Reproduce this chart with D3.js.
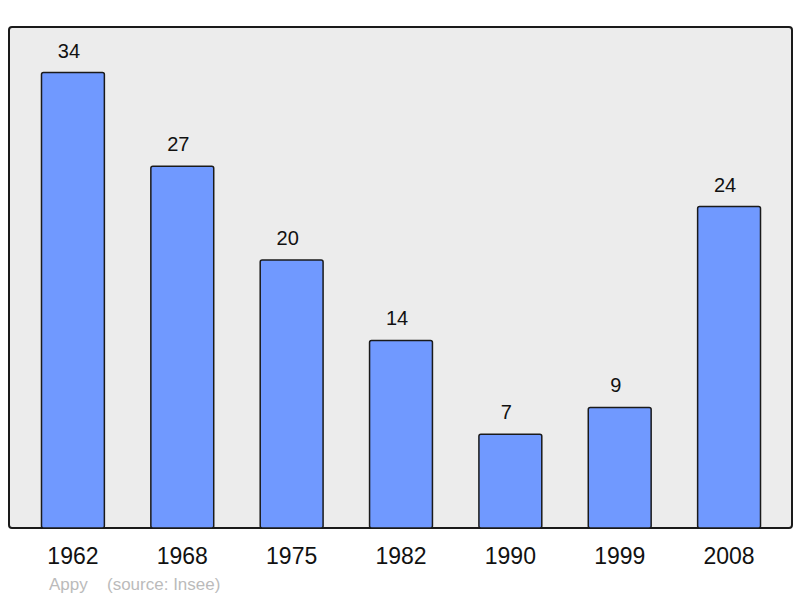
<!DOCTYPE html>
<html>
<head>
<meta charset="utf-8">
<script src="https://cdn.jsdelivr.net/npm/d3@7"></script>
<style>
  body { margin: 0; background: #fff; }
  svg { display: block; font-family: "Liberation Sans", Arial, sans-serif; }
</style>
</head>
<body>
<div id="chart"></div>
<script>
// population by census year
var years = ['1962', '1968', '1975', '1982', '1990', '1999', '2008'];
var population = [34, 27, 20, 14, 7, 9, 24];
var footerLabels = ['Appy', '(source: Insee)'];

var width = 800, height = 598;
var panel = { left: 9, right: 792, top: 27, bottom: 528 };

var svg = d3.select('#chart').append('svg')
    .attr('width', width).attr('height', height);

var x = d3.scaleBand()
    .domain(years)
    .range([panel.left + 1, panel.right])
    .paddingInner(0.425)
    .paddingOuter(0.288);

var y = d3.scaleLinear()
    .domain([0, d3.max(population) * 1.1])
    .range([panel.bottom, panel.top]);

svg.append('rect')
    .attr('x', panel.left).attr('y', panel.top)
    .attr('width', panel.right - panel.left)
    .attr('height', panel.bottom - panel.top)
    .attr('rx', 3)
    .attr('fill', '#ececec')
    .attr('stroke', '#1a1a1a')
    .attr('stroke-width', 2);

var rows = years.map(function(yr, i) { return { year: yr, value: population[i] }; });

svg.selectAll('rect.bar').data(rows)
  .enter().append('rect')
    .attr('class', 'bar')
    .attr('x', function(d) { return x(d.year); })
    .attr('y', function(d) { return y(d.value); })
    .attr('width', x.bandwidth())
    .attr('height', function(d) { return panel.bottom - y(d.value); })
    .attr('rx', 2)
    .attr('fill', '#7099ff')
    .attr('stroke', '#1a1a1a')
    .attr('stroke-width', 1.5);

svg.selectAll('text.val').data(rows)
  .enter().append('text')
    .attr('class', 'val')
    .attr('x', function(d) { return x(d.year) + x.bandwidth() / 2 - 4; })
    .attr('y', function(d) { return y(d.value) - 15; })
    .attr('text-anchor', 'middle')
    .attr('font-size', 20)
    .attr('fill', '#111')
    .text(function(d) { return d.value; });

var xAxis = d3.axisBottom(x).tickSize(0).tickPadding(0);
var gx = svg.append('g')
    .attr('transform', 'translate(0,' + panel.bottom + ')')
    .call(xAxis);
gx.select('.domain').remove();
gx.attr('font-family', null).attr('font-size', null);
gx.selectAll('text')
    .attr('dy', 0)
    .attr('y', 36)
    .attr('font-size', 23)
    .attr('fill', '#111');

svg.append('text')
    .attr('x', 49).attr('y', 590)
    .attr('font-size', 17).attr('fill', '#bbb')
    .text(footerLabels[0]);
svg.append('text')
    .attr('x', 107).attr('y', 590)
    .attr('font-size', 17).attr('fill', '#bbb')
    .text(footerLabels[1]);
</script>
</body>
</html>
